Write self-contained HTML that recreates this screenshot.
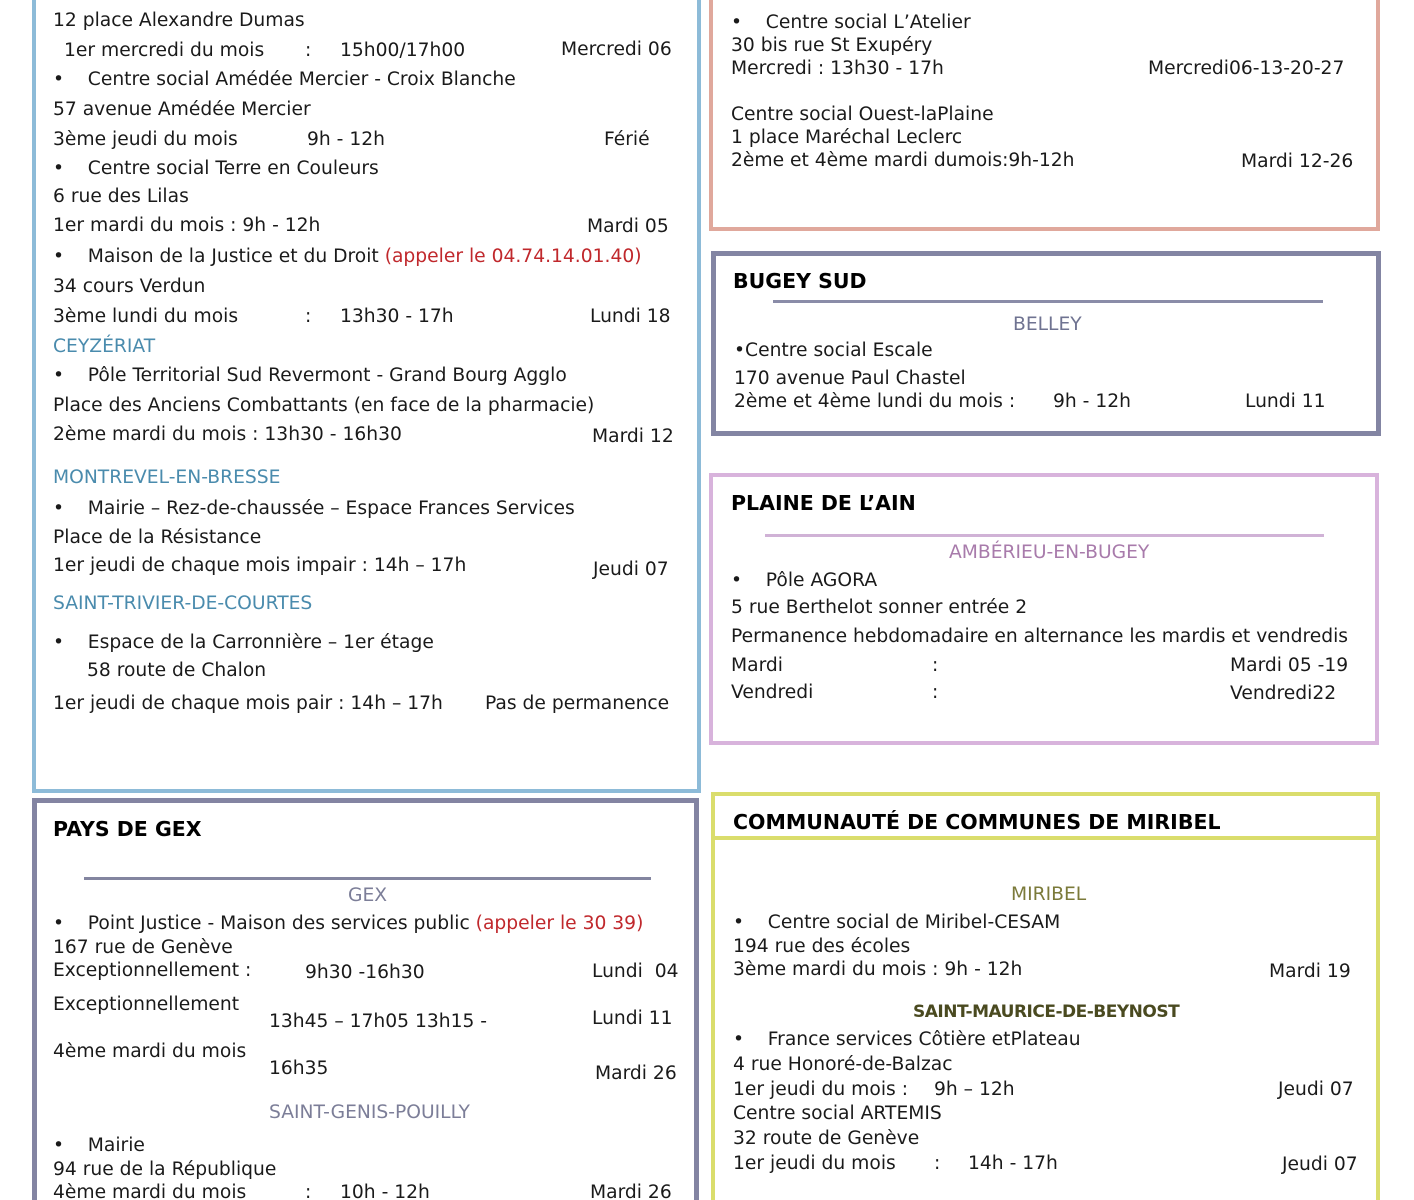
<!DOCTYPE html>
<html><head><meta charset="utf-8"><style>
html,body{margin:0;padding:0;background:#fff;width:1414px;height:1200px;overflow:hidden;}
body{position:relative;font-family:"DejaVu Sans","Liberation Sans",sans-serif;color:#1a1a1a;}
.b{position:absolute;box-sizing:border-box;}
.t{position:absolute;font-size:18.7px;line-height:22px;white-space:nowrap;}
.h{position:absolute;font-size:20.5px;font-weight:bold;line-height:26px;white-space:nowrap;color:#000;}
.r{color:#c0282c;}
.ln{position:absolute;height:3px;}
</style></head><body>
<!-- boxes -->
<div class="b" style="left:32px;top:0;width:669px;height:793px;border:4px solid #8dbbd8;border-top:none;"></div>
<div class="b" style="left:709px;top:0;width:671px;height:231px;border:4px solid #e0a89c;border-top:none;"></div>
<div class="b" style="left:711px;top:251px;width:670px;height:185px;border:5px solid #8385a3;"></div>
<div class="b" style="left:709px;top:473px;width:670px;height:272px;border:4px solid #d8b3dc;"></div>
<div class="b" style="left:32px;top:798px;width:667px;height:402px;border:5px solid #8384a2;border-bottom:none;"></div>
<div class="b" style="left:711px;top:792px;width:669px;height:408px;border:4px solid #dadd6c;border-bottom:none;"></div>
<div class="ln" style="left:713px;top:836px;width:665px;height:4px;background:#dadd6c;"></div>
<div class="ln" style="left:773px;top:300px;width:550px;background:#8a8ca8;"></div>
<div class="ln" style="left:765px;top:534px;width:559px;background:#d0b2d6;"></div>
<div class="ln" style="left:84px;top:877px;width:567px;background:#8385a0;"></div>

<!-- left blue -->
<div class="t" style="left:53px;top:10px">12 place Alexandre Dumas</div>
<div class="t" style="left:64px;top:40px">1er mercredi du mois</div>
<div class="t" style="left:305px;top:40px">:</div>
<div class="t" style="left:340px;top:40px">15h00/17h00</div>
<div class="t" style="left:561px;top:39px">Mercredi 06</div>
<div class="t" style="left:53px;top:69px">•&nbsp;&nbsp;&nbsp;&nbsp;Centre social Amédée Mercier - Croix Blanche</div>
<div class="t" style="left:53px;top:99px">57 avenue Amédée Mercier</div>
<div class="t" style="left:53px;top:129px">3ème jeudi du mois</div>
<div class="t" style="left:307px;top:129px">9h - 12h</div>
<div class="t" style="left:604px;top:129px">Férié</div>
<div class="t" style="left:53px;top:158px">•&nbsp;&nbsp;&nbsp;&nbsp;Centre social Terre en Couleurs</div>
<div class="t" style="left:53px;top:186px">6 rue des Lilas</div>
<div class="t" style="left:53px;top:215px">1er mardi du mois : 9h - 12h</div>
<div class="t" style="left:587px;top:216px">Mardi 05</div>
<div class="t" style="left:53px;top:246px">•&nbsp;&nbsp;&nbsp;&nbsp;Maison de la Justice et du Droit <span class="r">(appeler le 04.74.14.01.40)</span></div>
<div class="t" style="left:53px;top:276px">34 cours Verdun</div>
<div class="t" style="left:53px;top:306px">3ème lundi du mois</div>
<div class="t" style="left:305px;top:306px">:</div>
<div class="t" style="left:340px;top:306px">13h30 - 17h</div>
<div class="t" style="left:590px;top:306px">Lundi 18</div>
<div class="t" style="left:53px;top:336px;color:#4a8bad">CEYZÉRIAT</div>
<div class="t" style="left:53px;top:365px">•&nbsp;&nbsp;&nbsp;&nbsp;Pôle Territorial Sud Revermont - Grand Bourg Agglo</div>
<div class="t" style="left:53px;top:395px">Place des Anciens Combattants (en face de la pharmacie)</div>
<div class="t" style="left:53px;top:424px">2ème mardi du mois : 13h30 - 16h30</div>
<div class="t" style="left:592px;top:426px">Mardi 12</div>
<div class="t" style="left:53px;top:467px;color:#4a8bad">MONTREVEL-EN-BRESSE</div>
<div class="t" style="left:53px;top:498px">•&nbsp;&nbsp;&nbsp;&nbsp;Mairie – Rez-de-chaussée – Espace Frances Services</div>
<div class="t" style="left:53px;top:527px">Place de la Résistance</div>
<div class="t" style="left:53px;top:555px">1er jeudi de chaque mois impair : 14h – 17h</div>
<div class="t" style="left:593px;top:559px">Jeudi 07</div>
<div class="t" style="left:53px;top:593px;color:#4a8bad">SAINT-TRIVIER-DE-COURTES</div>
<div class="t" style="left:53px;top:632px">•&nbsp;&nbsp;&nbsp;&nbsp;Espace de la Carronnière – 1er étage</div>
<div class="t" style="left:87px;top:660px">58 route de Chalon</div>
<div class="t" style="left:53px;top:693px">1er jeudi de chaque mois pair : 14h – 17h</div>
<div class="t" style="left:485px;top:693px">Pas de permanence</div>

<!-- top right salmon -->
<div class="t" style="left:731px;top:12px">•&nbsp;&nbsp;&nbsp;&nbsp;Centre social L’Atelier</div>
<div class="t" style="left:731px;top:35px">30 bis rue St Exupéry</div>
<div class="t" style="left:731px;top:58px">Mercredi : 13h30 - 17h</div>
<div class="t" style="left:1148px;top:58px">Mercredi06-13-20-27</div>
<div class="t" style="left:731px;top:104px">Centre social Ouest-laPlaine</div>
<div class="t" style="left:731px;top:127px">1 place Maréchal Leclerc</div>
<div class="t" style="left:731px;top:150px">2ème et 4ème mardi dumois:9h-12h</div>
<div class="t" style="left:1241px;top:151px">Mardi 12-26</div>

<!-- Bugey -->
<div class="h" style="left:733px;top:268px">BUGEY SUD</div>
<div class="t" style="left:1013px;top:314px;color:#6f7391">BELLEY</div>
<div class="t" style="left:734px;top:340px">•Centre social Escale</div>
<div class="t" style="left:734px;top:368px">170 avenue Paul Chastel</div>
<div class="t" style="left:734px;top:391px">2ème et 4ème lundi du mois :</div>
<div class="t" style="left:1053px;top:391px">9h - 12h</div>
<div class="t" style="left:1245px;top:391px">Lundi 11</div>

<!-- Plaine -->
<div class="h" style="left:731px;top:490px">PLAINE DE L’AIN</div>
<div class="t" style="left:949px;top:542px;color:#a87bab">AMBÉRIEU-EN-BUGEY</div>
<div class="t" style="left:731px;top:570px">•&nbsp;&nbsp;&nbsp;&nbsp;Pôle AGORA</div>
<div class="t" style="left:731px;top:597px">5 rue Berthelot sonner entrée 2</div>
<div class="t" style="left:731px;top:626px">Permanence hebdomadaire en alternance les mardis et vendredis</div>
<div class="t" style="left:731px;top:655px">Mardi</div>
<div class="t" style="left:932px;top:655px">:</div>
<div class="t" style="left:1230px;top:655px">Mardi 05 -19</div>
<div class="t" style="left:731px;top:682px">Vendredi</div>
<div class="t" style="left:932px;top:682px">:</div>
<div class="t" style="left:1230px;top:683px">Vendredi22</div>

<!-- Gex -->
<div class="h" style="left:53px;top:816px">PAYS DE GEX</div>
<div class="t" style="left:348px;top:885px;color:#7c7e98">GEX</div>
<div class="t" style="left:53px;top:913px">•&nbsp;&nbsp;&nbsp;&nbsp;Point Justice - Maison des services public <span class="r">(appeler le 30 39)</span></div>
<div class="t" style="left:53px;top:937px">167 rue de Genève</div>
<div class="t" style="left:53px;top:960px">Exceptionnellement :</div>
<div class="t" style="left:305px;top:962px">9h30 -16h30</div>
<div class="t" style="left:592px;top:961px">Lundi&nbsp; 04</div>
<div class="t" style="left:53px;top:994px">Exceptionnellement</div>
<div class="t" style="left:269px;top:1011px">13h45 – 17h05 13h15 -</div>
<div class="t" style="left:592px;top:1008px">Lundi 11</div>
<div class="t" style="left:53px;top:1041px">4ème mardi du mois</div>
<div class="t" style="left:269px;top:1058px">16h35</div>
<div class="t" style="left:595px;top:1063px">Mardi 26</div>
<div class="t" style="left:269px;top:1102px;color:#7c7e98">SAINT-GENIS-POUILLY</div>
<div class="t" style="left:53px;top:1135px">•&nbsp;&nbsp;&nbsp;&nbsp;Mairie</div>
<div class="t" style="left:53px;top:1159px">94 rue de la République</div>
<div class="t" style="left:53px;top:1182px">4ème mardi du mois</div>
<div class="t" style="left:305px;top:1182px">:</div>
<div class="t" style="left:340px;top:1182px">10h - 12h</div>
<div class="t" style="left:590px;top:1182px">Mardi 26</div>

<!-- Miribel -->
<div class="h" style="left:733px;top:809px">COMMUNAUTÉ DE COMMUNES DE MIRIBEL</div>
<div class="t" style="left:1011px;top:884px;color:#7b7a3a">MIRIBEL</div>
<div class="t" style="left:733px;top:912px">•&nbsp;&nbsp;&nbsp;&nbsp;Centre social de Miribel-CESAM</div>
<div class="t" style="left:733px;top:936px">194 rue des écoles</div>
<div class="t" style="left:733px;top:959px">3ème mardi du mois : 9h - 12h</div>
<div class="t" style="left:1269px;top:961px">Mardi 19</div>
<div class="t" style="left:913px;top:1001px;color:#4a4a20;font-weight:bold;font-size:17px;letter-spacing:-0.5px">SAINT-MAURICE-DE-BEYNOST</div>
<div class="t" style="left:733px;top:1029px">•&nbsp;&nbsp;&nbsp;&nbsp;France services Côtière etPlateau</div>
<div class="t" style="left:733px;top:1054px">4 rue Honoré-de-Balzac</div>
<div class="t" style="left:733px;top:1079px">1er jeudi du mois :</div>
<div class="t" style="left:934px;top:1079px">9h – 12h</div>
<div class="t" style="left:1278px;top:1079px">Jeudi 07</div>
<div class="t" style="left:733px;top:1103px">Centre social ARTEMIS</div>
<div class="t" style="left:733px;top:1128px">32 route de Genève</div>
<div class="t" style="left:733px;top:1153px">1er jeudi du mois</div>
<div class="t" style="left:934px;top:1153px">:</div>
<div class="t" style="left:968px;top:1153px">14h - 17h</div>
<div class="t" style="left:1282px;top:1154px">Jeudi 07</div>
</body></html>
